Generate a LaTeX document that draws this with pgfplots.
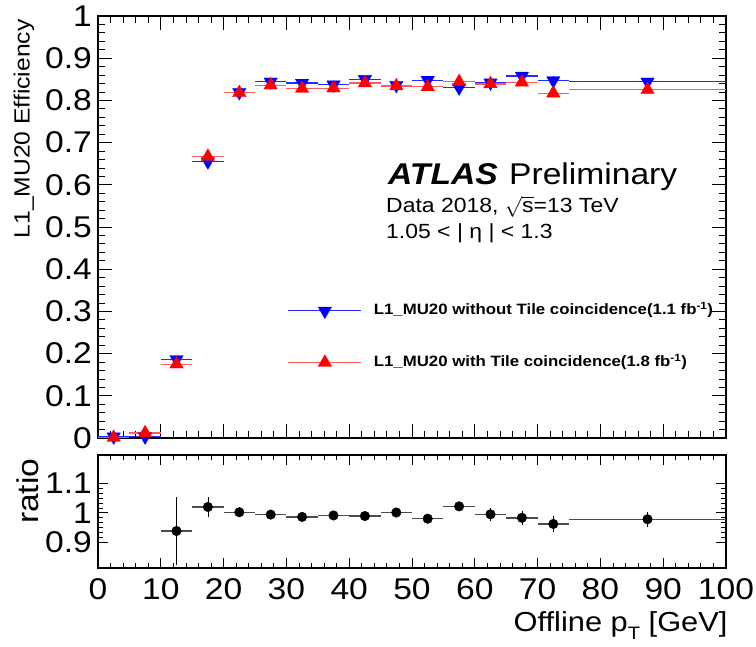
\documentclass[border=0pt]{standalone}
\usepackage{fontspec}
\setmainfont{Liberation Sans}[FakeStretch=1.12]
\usepackage{pgfplots}
\pgfplotsset{compat=1.18}
\usepackage{pgfplotstable}

\pgfplotstableread{
x ex y ey
2.5 2.5 0.003 0.003
7.5 2.5 0.003 0.004
12.5 2.5 0.186 0.006
17.5 2.5 0.655 0.006
22.5 2.5 0.819 0.005
27.5 2.5 0.844 0.005
32.5 2.5 0.841 0.006
37.5 2.5 0.837 0.006
42.5 2.5 0.850 0.007
47.5 2.5 0.836 0.006
52.5 2.5 0.848 0.007
57.5 2.5 0.830 0.008
62.5 2.5 0.842 0.008
67.5 2.5 0.858 0.009
72.5 2.5 0.847 0.010
87.5 12.5 0.844 0.005
}\withouttable

\pgfplotstableread{
x ex y ey
2.5 2.5 0.001 0.002
7.5 2.5 0.012 0.003
12.5 2.5 0.175 0.005
17.5 2.5 0.667 0.005
22.5 2.5 0.818 0.004
27.5 2.5 0.836 0.004
32.5 2.5 0.828 0.005
37.5 2.5 0.829 0.005
42.5 2.5 0.841 0.005
47.5 2.5 0.834 0.005
52.5 2.5 0.832 0.006
57.5 2.5 0.844 0.006
62.5 2.5 0.839 0.007
67.5 2.5 0.843 0.008
72.5 2.5 0.817 0.009
87.5 12.5 0.825 0.004
}\withtable

\pgfplotstableread{
x ex y ey
12.5 2.5 0.938 0.117
17.5 2.5 1.020 0.034
22.5 2.5 1.002 0.011
27.5 2.5 0.994 0.008
32.5 2.5 0.986 0.008
37.5 2.5 0.991 0.008
42.5 2.5 0.989 0.009
47.5 2.5 1.001 0.009
52.5 2.5 0.980 0.010
57.5 2.5 1.022 0.012
62.5 2.5 0.995 0.022
67.5 2.5 0.983 0.024
72.5 2.5 0.962 0.027
87.5 12.5 0.978 0.025
}\ratiotable

\pgfplotsset{
  atlasaxis/.style={
    scale only axis, width=628pt,
    xmin=0, xmax=100,
    xtick={0,10,20,30,40,50,60,70,80,90,100},
    minor x tick num=4,
    axis line style={line width=1.6pt},
    tick style={black, line width=0.8pt},
    tick align=inside,
    /pgf/number format/assume math mode=true,
    tick label style={font=\fontsize{30}{30}\selectfont},
    yticklabel style={inner sep=0pt, xshift=-6pt},
    xticklabel style={inner sep=0pt, yshift=-10pt},
  },
  legblue/.style={legend image code/.code={\draw[blue!85, line width=1pt] (0pt,0pt) -- (73pt,0pt);
    \draw[mark repeat=2, mark phase=2, ##1] plot coordinates {(0pt,0pt) (36.5pt,0pt) (73pt,0pt)};}},
  legred/.style={legend image code/.code={\draw[red!65, line width=1pt] (0pt,0pt) -- (73pt,0pt);
    \draw[mark repeat=2, mark phase=2, ##1] plot coordinates {(0pt,0pt) (36.5pt,0pt) (73pt,0pt)};}},
}

\begin{document}
\begin{tikzpicture}
\path[use as bounding box] (0pt,0pt) rectangle (756pt,647pt);

\begin{axis}[atlasaxis,
  at={(98pt,209pt)}, anchor=south west,
  height=422pt,
  ymin=0, ymax=1,
  ytick={0,0.1,0.2,0.3,0.4,0.5,0.6,0.7,0.8,0.9,1.0},
  minor y tick num=4,
  xticklabels={},
  major tick length=14pt, minor tick length=7pt,
  every axis y label/.style={at={(axis description cs:-0.118,1)}, rotate=90, anchor=east, font=\fontsize{22}{22}\selectfont},
  ylabel={L1\_MU20 Efficiency},
  legend style={at={(axis cs:30.2,0.24)}, anchor=west, draw=none, fill=none,
    font=\fontsize{15}{15}\selectfont\bfseries, inner sep=0pt, column sep=12pt, row sep=36pt,
    nodes={inner sep=0pt, text height=11pt, text depth=3pt}},
  legend cell align=left,
]
\addplot[legblue, only marks, mark=triangle*, mark size=7.8pt, color=blue,
  mark options={rotate=180, fill=blue, draw=blue, line width=0.3pt},
  error bars/.cd, x dir=both, x explicit, y dir=both, y explicit, error mark=none,
  error bar style={blue!85, line width=1.2pt}]
  table[x=x, y=y, x error=ex, y error=ey]{\withouttable};
\addlegendentry{L1\_MU20 without Tile coincidence(1.1 fb\textsuperscript{-1})}
\addplot[legred, only marks, mark=triangle*, mark size=7.8pt, color=red,
  mark options={fill=red, draw=red, line width=0.3pt},
  error bars/.cd, x dir=both, x explicit, y dir=both, y explicit, error mark=none,
  error bar style={red!65, line width=1.2pt}]
  table[x=x, y=y, x error=ex, y error=ey]{\withtable};
\addlegendentry{L1\_MU20 with Tile coincidence(1.8 fb\textsuperscript{-1})}
\end{axis}

\node[anchor=base west, inner sep=0pt, font=\fontsize{30}{30}\selectfont] at (388pt,462pt) {\textbf{\textit{ATLAS}}};
\node[anchor=base west, inner sep=0pt, font=\fontsize{30}{30}\selectfont] at (509pt,462pt) {Preliminary};
\node[anchor=base west, inner sep=0pt, font=\fontsize{20.5}{20.5}\selectfont] at (386pt,434pt) {Data 2018, $\sqrt{\mbox{s}}$=13 TeV};
\node[anchor=base west, inner sep=0pt, font=\fontsize{20.5}{20.5}\selectfont] at (386pt,408pt) {1.05 < | η | < 1.3};

\begin{axis}[atlasaxis,
  at={(98pt,79pt)}, anchor=south west,
  height=113pt,
  ymin=0.812, ymax=1.197,
  ytick={0.9,1,1.1},
  minor y tick num=5,
  major tick length=10pt, minor tick length=5pt,
  every axis y label/.style={at={(axis description cs:-0.112,1)}, rotate=90, anchor=east, font=\fontsize{30}{30}\selectfont},
  ylabel={ratio},
  every axis x label/.style={at={(axis description cs:1,0)}, anchor=north east, yshift=-40pt, xshift=5pt, font=\fontsize{27.5}{27.5}\selectfont},
  xlabel={Offline p\raisebox{-0.3em}{\fontsize{18}{18}\selectfont T} [GeV]},
]
\addplot[only marks, mark=none,
  error bars/.cd, x dir=both, x explicit, error mark=none,
  error bar style={draw=black!70, line width=1.4pt}]
  table[x=x, y=y, x error=ex]{\ratiotable};
\addplot[only marks, mark=*, mark size=4.8pt, color=black,
  error bars/.cd, y dir=both, y explicit, error mark=none,
  error bar style={black, line width=0.8pt}]
  table[x=x, y=y, y error=ey]{\ratiotable};
\end{axis}
\end{tikzpicture}
\end{document}
